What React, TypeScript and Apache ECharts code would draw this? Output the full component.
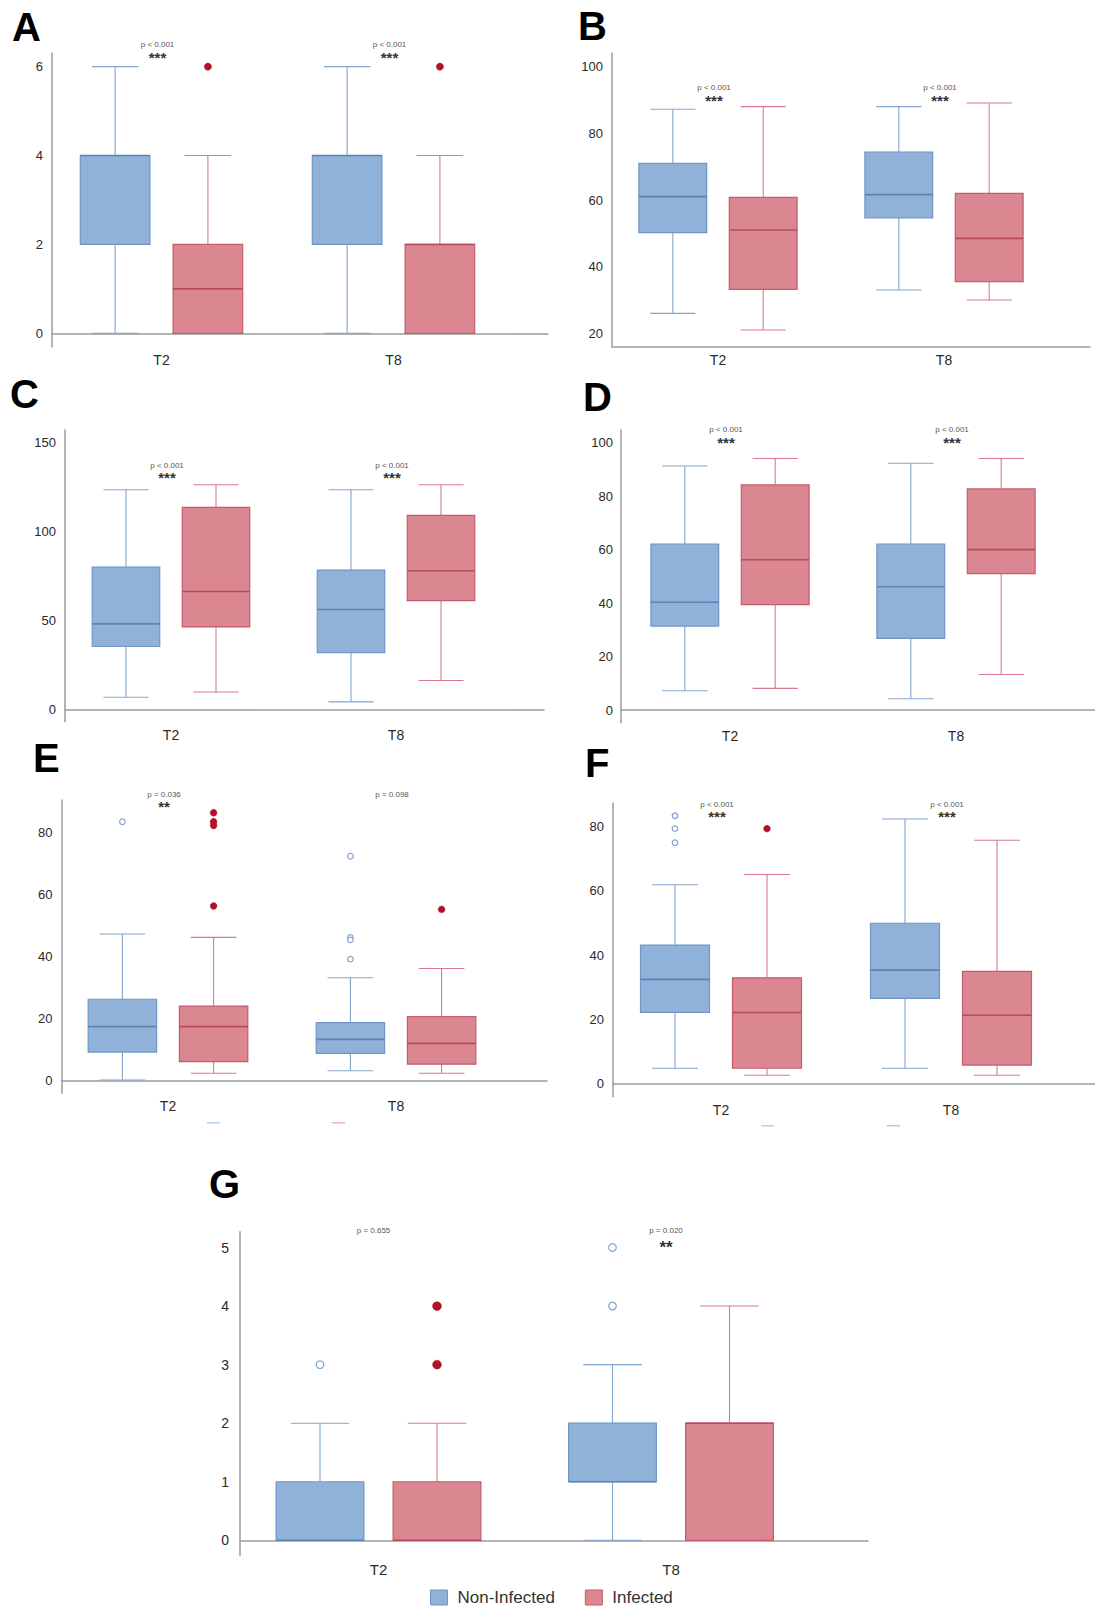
import React, { useEffect, useRef } from "react";
import * as echarts from "echarts";

// ---------- DATA ----------
const CATS = ["T2", "T8"];
const GROUPS = ["Non-Infected", "Infected"];

// box stats per category: [min, q1, median, q3, max]
const A_NON = [[0, 2, 4, 4, 6], [0, 2, 4, 4, 6]];
const A_INF = [[0, 0, 1, 2, 4], [0, 0, 2, 2, 4]];
const A_NON_OUT: number[][] = [];
const A_INF_OUT = [[0, 6], [1, 6]];
const A_TICKS = [0, 2, 4, 6];
const A_P = ["p < 0.001", "p < 0.001"];
const A_STARS = ["***", "***"];

const B_NON = [[26, 50.2, 61, 71, 87.2], [33, 54.6, 61.6, 74.4, 88]];
const B_INF = [[21, 33.2, 51, 60.8, 88], [30, 35.5, 48.5, 62, 89.1]];
const B_NON_OUT: number[][] = [];
const B_INF_OUT: number[][] = [];
const B_TICKS = [20, 40, 60, 80, 100];
const B_P = ["p < 0.001", "p < 0.001"];
const B_STARS = ["***", "***"];

const C_NON = [[7.1, 35.6, 48.3, 80.1, 123.6], [4.5, 32.2, 56.4, 78.5, 123.6]];
const C_INF = [[10.1, 46.6, 66.5, 113.7, 126.4], [16.5, 61.4, 78.1, 109.2, 126.4]];
const C_NON_OUT: number[][] = [];
const C_INF_OUT: number[][] = [];
const C_TICKS = [0, 50, 100, 150];
const C_P = ["p < 0.001", "p < 0.001"];
const C_STARS = ["***", "***"];

const D_NON = [[7.2, 31.4, 40.3, 62.1, 91.3], [4.2, 26.8, 46.1, 62.1, 92.3]];
const D_INF = [[8.1, 39.4, 56.2, 84.2, 94.1], [13.3, 51, 60, 82.7, 94.1]];
const D_NON_OUT: number[][] = [];
const D_INF_OUT: number[][] = [];
const D_TICKS = [0, 20, 40, 60, 80, 100];
const D_P = ["p < 0.001", "p < 0.001"];
const D_STARS = ["***", "***"];

const E_NON = [[0.3, 9.3, 17.5, 26.3, 47.3], [3.3, 8.9, 13.4, 18.8, 33.2]];
const E_INF = [[2.5, 6.2, 17.5, 24.1, 46.2], [2.5, 5.4, 12.1, 20.7, 36.2]];
const E_NON_OUT = [[0, 83.4], [1, 72.3], [1, 46.2], [1, 45.4], [1, 39.2]];
const E_INF_OUT = [[0, 86.3], [0, 83.4], [0, 82.2], [0, 56.3], [1, 55.2]];
const E_TICKS = [0, 20, 40, 60, 80];
const E_P = ["p = 0.036", "p = 0.098"];
const E_STARS = ["**", ""];

const F_NON = [[4.7, 22.1, 32.4, 43.1, 61.9], [4.7, 26.5, 35.3, 49.9, 82.4]];
const F_INF = [[2.5, 4.7, 22.1, 32.9, 65.1], [2.5, 5.7, 21.2, 34.9, 75.8]];
const F_NON_OUT = [[0, 83.4], [0, 79.4], [0, 75]];
const F_INF_OUT = [[0, 79.4]];
const F_TICKS = [0, 20, 40, 60, 80];
const F_P = ["p < 0.001", "p < 0.001"];
const F_STARS = ["***", "***"];

const G_NON = [[0, 0, 0, 1, 2], [0, 1, 1, 2, 3]];
const G_INF = [[0, 0, 0, 1, 2], [0, 0, 2, 2, 4]];
const G_NON_OUT = [[0, 3], [1, 4], [1, 5]];
const G_INF_OUT = [[0, 3], [0, 4]];
const G_TICKS = [0, 1, 2, 3, 4, 5];
const G_P = ["p = 0.655", "p = 0.020"];
const G_STARS = ["", "**"];

// ---------- LAYOUT / STYLE ----------
const FONT = '"Liberation Sans", Arial, Helvetica, sans-serif';
const BLUE = { fill: "#90b2d8", border: "#6f96c6", whisker: "#84a5cf", median: "#5a83b7" };
const RED = { fill: "#da8791", border: "#c65b6c", whisker: "#d97a8b", median: "#b84a5d" };
const OUT_RED = "#b3112b";
const OUT_BLUE = "#7fa2cf";
const AXIS_COLOR = "#9c9c9c";

type Layout = {
  letter: string; lx: number; ly: number;
  axisX: number; top: number; bottom: number; xEnd: number;
  t2: number; band: number; yMin: number; yMax: number;
  pY: number; sY: number; tickFs: number; tickMargin: number; catFs: number;
  starFs: number; pDx: number; outR: number;
};

const LAYOUTS: Layout[] = [
  { letter: "A", lx: 12, ly: 26.5, axisX: 52, top: 53.3, bottom: 346.7, xEnd: 548, t2: 161.5, band: 232, yMin: -0.3, yMax: 6.3, pY: 44.3, sY: 54.3, tickFs: 13, tickMargin: 9, catFs: 14, starFs: 15, pDx: -4, outR: 3.6 },
  { letter: "B", lx: 578, ly: 25.5, axisX: 612, top: 53.3, bottom: 346.7, xEnd: 1090, t2: 718, band: 226, yMin: 16, yMax: 104, pY: 87.3, sY: 96.7, tickFs: 13, tickMargin: 9, catFs: 14, starFs: 15, pDx: -4, outR: 3.6 },
  { letter: "C", lx: 10, ly: 394, axisX: 65, top: 430, bottom: 721.7, xEnd: 544, t2: 171, band: 225, yMin: -6.6, yMax: 157.1, pY: 465.7, sY: 474.3, tickFs: 13, tickMargin: 9, catFs: 14, starFs: 15, pDx: -4, outR: 3.6 },
  { letter: "D", lx: 583, ly: 396.5, axisX: 621, top: 430, bottom: 722.7, xEnd: 1095, t2: 730, band: 226, yMin: -4.75, yMax: 104.75, pY: 429.3, sY: 439, tickFs: 13, tickMargin: 8, catFs: 14, starFs: 15, pDx: -4, outR: 3.6 },
  { letter: "E", lx: 33, ly: 758, axisX: 61.5, top: 800, bottom: 1093.3, xEnd: 547, t2: 168, band: 228, yMin: -3.96, yMax: 90.4, pY: 794, sY: 803.3, tickFs: 13, tickMargin: 9, catFs: 14, starFs: 15, pDx: -4, outR: 3.4 },
  { letter: "F", lx: 585, ly: 763, axisX: 613, top: 803.3, bottom: 1096.7, xEnd: 1095, t2: 721, band: 230, yMin: -4.17, yMax: 87.3, pY: 804, sY: 813.3, tickFs: 13, tickMargin: 9, catFs: 14, starFs: 15, pDx: -4, outR: 3.4 },
  { letter: "G", lx: 209, ly: 1184, axisX: 240, top: 1231.7, bottom: 1555.7, xEnd: 868, t2: 378.5, band: 292.5, yMin: -0.263, yMax: 5.27, pY: 1230, sY: 1244, tickFs: 14, tickMargin: 11, catFs: 15, starFs: 17, pDx: -5, outR: 4.4 },
];

const PANELS = [
  { non: A_NON, inf: A_INF, nonOut: A_NON_OUT, infOut: A_INF_OUT, ticks: A_TICKS, p: A_P, stars: A_STARS },
  { non: B_NON, inf: B_INF, nonOut: B_NON_OUT, infOut: B_INF_OUT, ticks: B_TICKS, p: B_P, stars: B_STARS },
  { non: C_NON, inf: C_INF, nonOut: C_NON_OUT, infOut: C_INF_OUT, ticks: C_TICKS, p: C_P, stars: C_STARS },
  { non: D_NON, inf: D_INF, nonOut: D_NON_OUT, infOut: D_INF_OUT, ticks: D_TICKS, p: D_P, stars: D_STARS },
  { non: E_NON, inf: E_INF, nonOut: E_NON_OUT, infOut: E_INF_OUT, ticks: E_TICKS, p: E_P, stars: E_STARS },
  { non: F_NON, inf: F_INF, nonOut: F_NON_OUT, infOut: F_INF_OUT, ticks: F_TICKS, p: F_P, stars: F_STARS },
  { non: G_NON, inf: G_INF, nonOut: G_NON_OUT, infOut: G_INF_OUT, ticks: G_TICKS, p: G_P, stars: G_STARS },
];

function boxRender(side: number, col: typeof BLUE) {
  return (_params: any, api: any) => {
    const cat = api.value(0);
    const mn = api.value(1), q1 = api.value(2), md = api.value(3), q3 = api.value(4), mx = api.value(5);
    const band = api.size([1, 0])[0];
    const cx = api.coord([cat, md])[0] + side * band * 0.2;
    const Y = (v: number) => api.coord([cat, v])[1];
    const bw = band * 0.3, cw = band * 0.2;
    const wl = { stroke: col.whisker, lineWidth: 1.1 };
    return {
      type: "group",
      children: [
        { type: "line", shape: { x1: cx, y1: Y(mx), x2: cx, y2: Y(q3) }, style: wl },
        { type: "line", shape: { x1: cx, y1: Y(q1), x2: cx, y2: Y(mn) }, style: wl },
        { type: "line", shape: { x1: cx - cw / 2, y1: Y(mx), x2: cx + cw / 2, y2: Y(mx) }, style: wl },
        { type: "line", shape: { x1: cx - cw / 2, y1: Y(mn), x2: cx + cw / 2, y2: Y(mn) }, style: wl },
        { type: "rect", shape: { x: cx - bw / 2, y: Y(q3), width: bw, height: Y(q1) - Y(q3) }, style: { fill: col.fill, stroke: col.border, lineWidth: 1.2 } },
        { type: "line", shape: { x1: cx - bw / 2, y1: Y(md), x2: cx + bw / 2, y2: Y(md) }, style: { stroke: col.median, lineWidth: 1.6 } },
      ],
    };
  };
}

function outRender(side: number, hollow: boolean, r: number) {
  return (_params: any, api: any) => {
    const cat = api.value(0);
    const v = api.value(1);
    const band = api.size([1, 0])[0];
    const p = api.coord([cat, v]);
    return {
      type: "circle",
      shape: { cx: p[0] + side * band * 0.2, cy: p[1], r: hollow ? r - 0.6 : r },
      style: hollow ? { fill: "#ffffff", stroke: OUT_BLUE, lineWidth: 1.2 } : { fill: OUT_RED, stroke: OUT_RED, lineWidth: 0.5 },
    };
  };
}

function buildOption() {
  const grid: any[] = [];
  const xAxis: any[] = [];
  const yAxis: any[] = [];
  const series: any[] = [];
  const graphic: any[] = [];

  PANELS.forEach((pd, i) => {
    const L = LAYOUTS[i];
    const h = L.bottom - L.top;
    grid.push({ left: L.axisX, top: L.top, width: L.xEnd - L.axisX, height: h });
    grid.push({ left: L.t2 - L.band / 2, top: L.top, width: L.band * 2, height: h });
    const fi = i * 2, di = i * 2 + 1;
    xAxis.push({
      type: "value", gridIndex: fi, min: 0, max: 1,
      axisLine: { show: true, lineStyle: { color: AXIS_COLOR, width: 1.5 } },
      axisTick: { show: false }, axisLabel: { show: false }, splitLine: { show: false },
    });
    yAxis.push({
      type: "value", gridIndex: fi, min: L.yMin, max: L.yMax,
      axisLine: { show: true, lineStyle: { color: AXIS_COLOR, width: 1.5 } },
      axisTick: { show: false }, splitLine: { show: false },
      axisLabel: { customValues: pd.ticks, fontSize: L.tickFs, color: "#2a2a2a", margin: L.tickMargin, fontFamily: FONT },
    });
    xAxis.push({
      type: "category", gridIndex: di, data: CATS, boundaryGap: true,
      axisLine: { show: false }, axisTick: { show: false }, splitLine: { show: false },
      axisLabel: { fontSize: L.catFs, color: "#2a2a2a", margin: 6, fontFamily: FONT },
    });
    yAxis.push({ type: "value", gridIndex: di, min: L.yMin, max: L.yMax, show: false, splitLine: { show: false } });

    const mk = (arr: number[][]) => arr.map((s, c) => [c, ...s]);
    series.push({
      type: "custom", name: GROUPS[0], xAxisIndex: di, yAxisIndex: di,
      encode: { x: 0, y: [1, 2, 3, 4, 5] }, data: mk(pd.non), renderItem: boxRender(-1, BLUE),
      itemStyle: { color: BLUE.fill }, silent: true,
    });
    series.push({
      type: "custom", name: GROUPS[1], xAxisIndex: di, yAxisIndex: di,
      encode: { x: 0, y: [1, 2, 3, 4, 5] }, data: mk(pd.inf), renderItem: boxRender(1, RED),
      itemStyle: { color: RED.fill }, silent: true,
    });
    if (pd.nonOut.length) series.push({
      type: "custom", name: GROUPS[0] + " outliers", xAxisIndex: di, yAxisIndex: di,
      encode: { x: 0, y: 1 }, data: pd.nonOut, renderItem: outRender(-1, true, L.outR), silent: true, z: 5,
    });
    if (pd.infOut.length) series.push({
      type: "custom", name: GROUPS[1] + " outliers", xAxisIndex: di, yAxisIndex: di,
      encode: { x: 0, y: 1 }, data: pd.infOut, renderItem: outRender(1, false, L.outR), silent: true, z: 5,
    });

    graphic.push({
      type: "text", x: L.lx, y: L.ly,
      style: { text: L.letter, fontSize: 40, fontWeight: "bold", fill: "#000", fontFamily: FONT, align: "left", verticalAlign: "middle" },
    });
    pd.p.forEach((t, c) => {
      const cx = L.t2 + c * L.band + L.pDx;
      if (t) graphic.push({
        type: "text", x: cx, y: L.pY,
        style: { text: t, fontSize: 8, fill: "#555", fontFamily: FONT, align: "center", verticalAlign: "middle" },
      });
      const s = pd.stars[c];
      if (s) graphic.push({
        type: "text", x: cx, y: L.sY + L.starFs * 0.23,
        style: { text: s, fontSize: L.starFs, fontWeight: "bold", fill: "#333", fontFamily: FONT, align: "center", verticalAlign: "middle" },
      });
    });
  });

  [[207, 1122, BLUE.fill], [332, 1122, RED.fill], [761, 1125, BLUE.fill], [887, 1125, RED.fill]].forEach(([x, y, c]) => {
    graphic.push({ type: "rect", shape: { x: x as number, y: y as number, width: 13, height: 1.5 }, style: { fill: c as string, opacity: 0.6 } });
  });

  return {
    animation: false,
    backgroundColor: "#ffffff",
    grid, xAxis, yAxis, series, graphic,
    legend: {
      data: [
        { name: GROUPS[0], itemStyle: { color: BLUE.fill, borderColor: BLUE.border, borderWidth: 1 } },
        { name: GROUPS[1], itemStyle: { color: RED.fill, borderColor: RED.border, borderWidth: 1 } },
      ],
      left: 430, top: 1589, padding: 0, icon: "rect", itemWidth: 17, itemHeight: 15, itemGap: 30,
      selectedMode: false,
      textStyle: { fontSize: 17, color: "#333", fontFamily: FONT, padding: [0, 0, 0, 5] },
    },
  };
}

export default function App() {
  const ref = useRef<HTMLDivElement>(null);
  useEffect(() => {
    if (!ref.current) return;
    const chart = echarts.init(ref.current, undefined, { renderer: "svg" });
    chart.setOption(buildOption() as any);
    return () => chart.dispose();
  }, []);
  return <div ref={ref} style={{ position: "absolute", left: 0, top: 0, width: 1095, height: 1609, background: "#fff" }} />;
}
